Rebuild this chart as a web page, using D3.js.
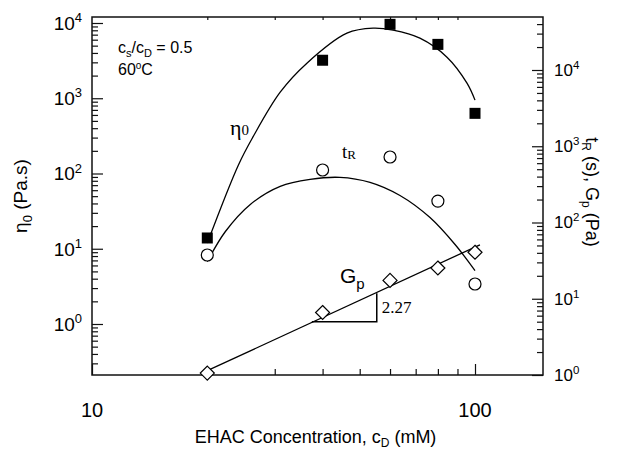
<!DOCTYPE html>
<html>
<head>
<meta charset="utf-8">
<script src="https://cdn.jsdelivr.net/npm/d3@7"></script>
<style>
  html, body { margin: 0; padding: 0; background: #fff; }
  svg { display: block; }
  .sans { font-family: "Liberation Sans", Arial, Helvetica, sans-serif; }
  .serif { font-family: "Liberation Serif", "Times New Roman", serif; }
</style>
</head>
<body>
<svg id="chart" width="618" height="452"></svg>
<script>
// ---------------- data ----------------
const concentration = [20, 40, 60, 80, 100];          // c_D (mM)
const eta0 = [13.9, 3200, 9600, 5200, 630];            // Pa.s (left axis)
const tR = [37.5, 488, 723, 191, 15.6];                // s (right axis)
const Gp = [1.06, 6.6, 17.4, 25.3, 40.7];              // Pa (right axis)

// fitted curves
const eta0FitX = [20, 24.1, 26.3, 31.0, 36.4, 46.3, 54.2, 61.1, 71.8, 84.5, 95.3, 100];
const eta0FitY = [11.9, 129, 304, 1205, 2925, 7320, 8530, 8020, 6280, 3515, 1587, 944];
const tRFitX = [20, 22.3, 25.9, 31.0, 37.1, 44.4, 53.2, 63.7, 76.3, 88.7, 100];
const tRFitY = [30.7, 76.2, 172.6, 298, 368, 391, 336, 226, 116, 51.4, 23.4];
const gpFitX = [20, 103];
const gpFitY = [1.14, 51.0];
const slopeX = [37.5, 55.4];
const slopeY = [5.0, 11.8];
const slopeLabel = "2.27";

// axes
const xTicks = [10, 100];
const leftTicks = [0, 1, 2, 3, 4];     // exponents
const rightTicks = [0, 1, 2, 3, 4];    // exponents

// ---------------- layout ----------------
const L = 92, R = 543, T = 17, B = 375;
const svg = d3.select("#chart");

const x = d3.scaleLog().domain([10, 150.5]).range([L, R]);
const yL = d3.scaleLog().domain([0.21, 12015]).range([B, T]);
const yR = d3.scaleLog().domain([1, 49550]).range([B, T]);

function minorValues(scale) {
  const [a, b] = scale.domain();
  const out = [];
  for (let e = Math.floor(Math.log10(a)); e <= Math.ceil(Math.log10(b)); e++) {
    for (let m = 2; m <= 9; m++) {
      const v = m * Math.pow(10, e);
      if (v >= a && v <= b) out.push(v);
    }
  }
  return out;
}

const axisStroke = "#111";

// minor ticks (no labels)
svg.append("g").attr("transform", `translate(${L},0)`)
  .call(d3.axisRight(yL).tickValues(minorValues(yL)).tickSize(6).tickFormat(""))
  .call(g => g.select(".domain").remove());
svg.append("g").attr("transform", `translate(${R},0)`)
  .call(d3.axisLeft(yR).tickValues(minorValues(yR)).tickSize(6).tickFormat(""))
  .call(g => g.select(".domain").remove());
svg.append("g").attr("transform", `translate(0,${B})`)
  .call(d3.axisTop(x).tickValues(minorValues(x).filter(v => v < 100)).tickSize(6).tickFormat(""))
  .call(g => g.select(".domain").remove());
svg.append("g").attr("transform", `translate(0,${T})`)
  .call(d3.axisBottom(x).tickValues(minorValues(x).filter(v => v < 100)).tickSize(3).tickFormat(""))
  .call(g => g.select(".domain").remove());

// major ticks
svg.append("g").attr("transform", `translate(${L},0)`)
  .call(d3.axisRight(yL).tickValues(leftTicks.map(e => Math.pow(10, e))).tickSize(11).tickFormat(""))
  .call(g => g.select(".domain").remove());
svg.append("g").attr("transform", `translate(${R},0)`)
  .call(d3.axisLeft(yR).tickValues(rightTicks.map(e => Math.pow(10, e))).tickSize(11).tickFormat(""))
  .call(g => g.select(".domain").remove());
svg.append("g").attr("transform", `translate(0,${B})`)
  .call(d3.axisTop(x).tickValues(xTicks).tickSize(11).tickFormat(""))
  .call(g => g.select(".domain").remove());

svg.selectAll(".tick line").attr("stroke", axisStroke).attr("stroke-width", 1.2);

// frame
svg.append("rect").attr("x", L).attr("y", T).attr("width", R - L).attr("height", B - T)
  .attr("fill", "none").attr("stroke", axisStroke).attr("stroke-width", 1.5);

// tick labels
function powLabel(e, xpos, ypos, anchor, fs, sfs) {
  const t = svg.append("text").attr("class", "sans").attr("x", xpos).attr("y", ypos)
    .attr("text-anchor", anchor).attr("font-size", fs).attr("fill", "#000");
  t.append("tspan").text("10");
  t.append("tspan").attr("dy", -fs * 0.42).attr("font-size", sfs).text(e);
}
leftTicks.forEach(e => powLabel(e, L - 10, yL(Math.pow(10, e)) + 7, "end", 19, 13));
rightTicks.forEach(e => powLabel(e, R + 11, yR(Math.pow(10, e)) + 6, "start", 17, 11.5));
xTicks.forEach(v => {
  svg.append("text").attr("class", "sans").attr("x", x(v)).attr("y", 417)
    .attr("text-anchor", "middle").attr("font-size", 20).text(v);
});

// axis titles
const xt = svg.append("text").attr("class", "sans").attr("x", (L + R) / 2 - 2).attr("y", 443)
  .attr("text-anchor", "middle").attr("font-size", 18);
xt.append("tspan").text("EHAC Concentration, c");
xt.append("tspan").attr("dy", 4).attr("font-size", 12).text("D");
xt.append("tspan").attr("dy", -4).text(" (mM)");

const ylt = svg.append("text").attr("class", "sans")
  .attr("transform", `translate(27,${(T + B) / 2}) rotate(-90)`)
  .attr("text-anchor", "middle").attr("font-size", 19);
ylt.append("tspan").text("η");
ylt.append("tspan").attr("dy", 5).attr("font-size", 13).text("0");
ylt.append("tspan").attr("dy", -5).text(" (Pa.s)");

const yrt = svg.append("text").attr("class", "sans")
  .attr("transform", `translate(586,${(T + B) / 2 - 4}) rotate(90)`)
  .attr("text-anchor", "middle").attr("font-size", 18);
yrt.append("tspan").text("t");
yrt.append("tspan").attr("dy", 4).attr("font-size", 12).text("R");
yrt.append("tspan").attr("dy", -4).text(" (s), G");
yrt.append("tspan").attr("dy", 4).attr("font-size", 12).text("p");
yrt.append("tspan").attr("dy", -4).text(" (Pa)");

// ---------------- curves ----------------
const lineL = d3.line().x(d => x(d[0])).y(d => yL(d[1])).curve(d3.curveCatmullRom.alpha(0.5));
const lineR = d3.line().x(d => x(d[0])).y(d => yR(d[1])).curve(d3.curveCatmullRom.alpha(0.5));
const lineStraight = d3.line().x(d => x(d[0])).y(d => yR(d[1]));

svg.append("path").datum(d3.zip(eta0FitX, eta0FitY)).attr("d", lineL)
  .attr("fill", "none").attr("stroke", "#000").attr("stroke-width", 1.3);
svg.append("path").datum(d3.zip(tRFitX, tRFitY)).attr("d", lineR)
  .attr("fill", "none").attr("stroke", "#000").attr("stroke-width", 1.3);
svg.append("path").datum(d3.zip(gpFitX, gpFitY)).attr("d", lineStraight)
  .attr("fill", "none").attr("stroke", "#000").attr("stroke-width", 1.3);

// slope triangle
svg.append("path")
  .datum([[slopeX[0], slopeY[0]], [slopeX[1], slopeY[0]], [slopeX[1], slopeY[1]]])
  .attr("d", lineStraight).attr("fill", "none").attr("stroke", "#000").attr("stroke-width", 1.5);
svg.append("text").attr("class", "serif").attr("x", x(slopeX[1]) + 5).attr("y", yR(Math.sqrt(slopeY[0] * slopeY[1])) + 6)
  .attr("font-size", 17).text(slopeLabel);

// ---------------- markers ----------------
const pts = d3.range(concentration.length);
svg.append("g").selectAll("rect").data(pts).join("rect")
  .attr("x", i => x(concentration[i]) - 5.5).attr("y", i => yL(eta0[i]) - 5.5)
  .attr("width", 11).attr("height", 11).attr("fill", "#000");

svg.append("g").selectAll("circle").data(pts).join("circle")
  .attr("cx", i => x(concentration[i])).attr("cy", i => yR(tR[i])).attr("r", 6)
  .attr("fill", "#fff").attr("stroke", "#000").attr("stroke-width", 1.2);

svg.append("g").selectAll("path").data(pts).join("path")
  .attr("transform", i => `translate(${x(concentration[i])},${yR(Gp[i])})`)
  .attr("d", "M0,-7L7,0L0,7L-7,0Z")
  .attr("fill", "#fff").attr("stroke", "#000").attr("stroke-width", 1.2);

// ---------------- annotations ----------------
const a1 = svg.append("text").attr("class", "sans").attr("x", 118).attr("y", 53).attr("font-size", 16);
a1.append("tspan").text("c");
a1.append("tspan").attr("dy", 4).attr("font-size", 11).text("s");
a1.append("tspan").attr("dy", -4).text("/c");
a1.append("tspan").attr("dy", 4).attr("font-size", 11).text("D");
a1.append("tspan").attr("dy", -4).text(" = 0.5");
const a2 = svg.append("text").attr("class", "sans").attr("x", 118).attr("y", 75).attr("font-size", 16);
a2.append("tspan").text("60");
a2.append("tspan").attr("dy", -6).attr("font-size", 10).text("o");
a2.append("tspan").attr("dy", 6).text("C");

const eta = svg.append("text").attr("class", "serif").attr("x", 230).attr("y", 135).attr("font-size", 22);
eta.append("tspan").text("η");
eta.append("tspan").attr("font-size", 15).text("0");

const tl = svg.append("text").attr("class", "serif").attr("x", 342).attr("y", 158).attr("font-size", 19);
tl.append("tspan").text("t");
tl.append("tspan").attr("dy", 1).attr("font-size", 13).text("R");

const gl = svg.append("text").attr("class", "sans").attr("x", 340).attr("y", 283).attr("font-size", 21);
gl.append("tspan").text("G");
gl.append("tspan").attr("dy", 6).attr("font-size", 15).text("p");
</script>
</body>
</html>
